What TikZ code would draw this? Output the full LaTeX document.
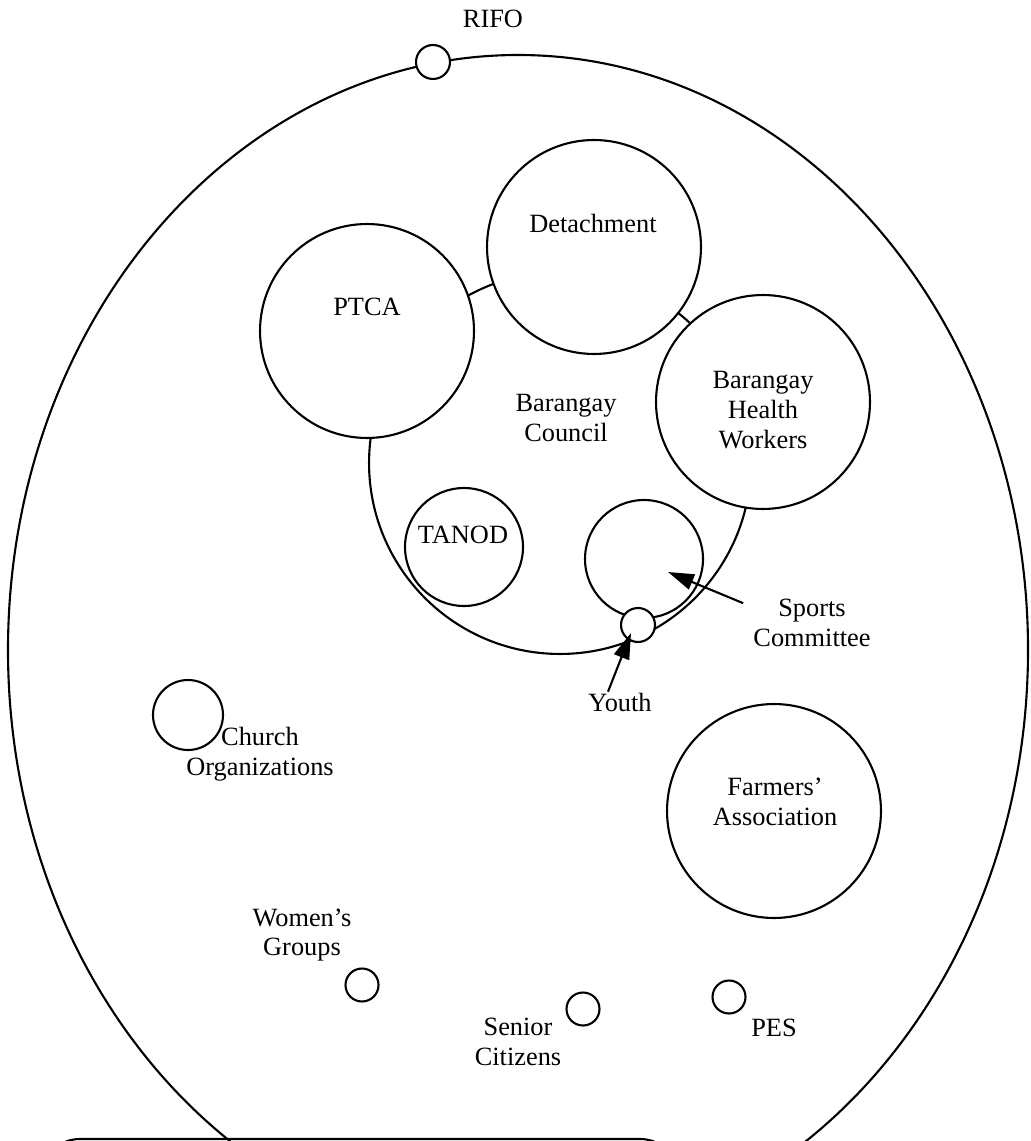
\documentclass[tikz,border=0pt]{standalone}
\usepackage{fontspec}
\setmainfont{Liberation Serif}
\usetikzlibrary{arrows.meta}

\tikzset{
  org/.style={circle, draw, fill=white, inner sep=0pt},
  tag/.style={align=center, inner sep=0pt, font=\fontsize{15}{17}\selectfont},
  pointer/.style={-{Triangle[length=0.52cm,width=0.32cm]}}
}

\begin{document}
\begin{tikzpicture}[x=0.02cm, y=-0.02cm, line width=1.2pt]
\useasboundingbox (0,0) rectangle (1030,1141);
\clip (0,0) rectangle (1030,1141);

% outer boundary and the box under it
\draw (518,650) ellipse [x radius=510, y radius=595];
\draw[rounded corners=0.8cm] (40,1139) rectangle (680,1400);

\node[org, minimum size=0.68cm] (rifo) at (433,62) {};
\node[tag] (rifolbl) at (493,19) {RIFO};

% barangay council
\node[circle, draw, inner sep=0pt, minimum size=7.64cm] (council) at (560,463) {};
\node[tag] (councillbl) at (566,418) {Barangay\\Council};

\begin{scope}[every node/.append style={minimum size=4.28cm}]
\node[org] (ptca) at (367,331) {};
\node[org] (detach) at (594,247) {};
\node[org] (bhw) at (763,402) {};
\node[org] (farmers) at (774,811) {};
\end{scope}
\node[tag] (ptcalbl) at (367,307) {PTCA};
\node[tag] (detachlbl) at (593,223) {Detachment};
\node[tag] (bhwlbl) at (763,410) {Barangay\\Health\\Workers};
\node[tag] (farmerslbl) at (775,802) {Farmers'\\Association};

\node[org, minimum size=2.36cm] (tanod) at (464,547) {};
\node[tag] (tanodlbl) at (463,535) {TANOD};
\node[org, minimum size=2.36cm] (sports) at (644,559) {};
\node[org, minimum size=0.68cm] (youth) at (638,625) {};

\node[tag] (sportslbl) at (812,623) {Sports\\Committee};
\node[tag] (youthlbl) at (620,702) {Youth};
\coordinate (sportstip) at (668,572);
\coordinate (youthtip) at (631,633);
\draw[pointer, shorten <=0.2cm] (sportslbl.165) -- (sportstip);
\draw[pointer] ([xshift=-0.24cm]youthlbl.north) -- (youthtip);

% groups outside the council
\node[org, minimum size=1.4cm] (church) at (188,715) {};
\node[tag] (churchlbl) at (260,754) {Church\\Organizations};

\node[org, minimum size=0.66cm] (women) at (362,985) {};
\node[tag] (womenlbl) at (302,935) {Women's\\Groups};
\node[org, minimum size=0.66cm] (senior) at (583,1009) {};
\node[tag] (seniorlbl) at (518,1042) {Senior\\Citizens};
\node[org, minimum size=0.66cm] (pes) at (729,997) {};
\node[tag] (peslbl) at (774,1028) {PES};
\end{tikzpicture}
\end{document}
